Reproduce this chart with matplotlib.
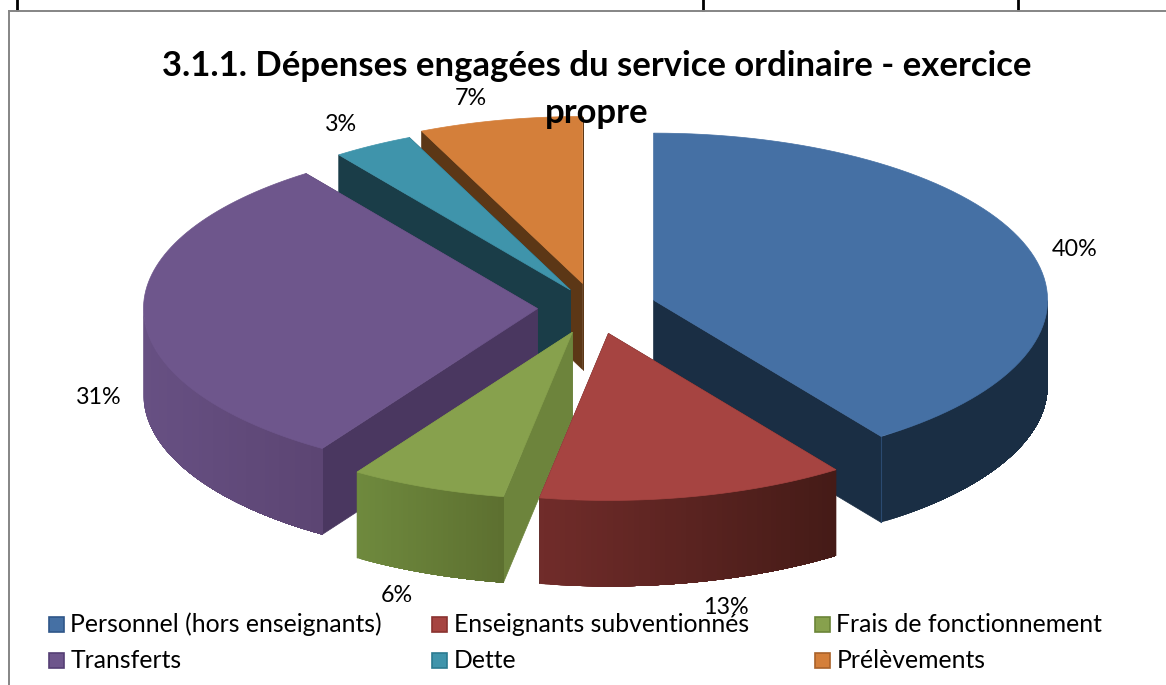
#!/usr/bin/env python3
"""Camembert 3D éclaté : dépenses engagées du service ordinaire."""
import numpy as np
import matplotlib
matplotlib.use("Agg")
import matplotlib.pyplot as plt
from matplotlib.patches import Polygon, Rectangle

plt.rcParams["font.family"] = ["Lato", "DejaVu Sans"]

# ── Données ────────────────────────────────────────────────────────────────────
categories = ["Personnel (hors enseignants)", "Enseignants subventionnés",
              "Frais de fonctionnement", "Transferts", "Dette", "Prélèvements"]
values = [40.2, 12.6, 6.4, 30.8, 3.3, 6.7]
pct_labels = ["40%", "13%", "6%", "31%", "3%", "7%"]

# ── Couleurs ───────────────────────────────────────────────────────────────────
top_colors = ["#4570A4", "#A64441", "#87A14D", "#6E568C", "#3F94AB", "#D47F3A"]
wall_colors = ["#1A2E44", "#451B17", "#6D843C", "#4A3760", "#1A3D48", "#5C3716"]
rim_left = ["#1A2E44", "#712C2A", "#6F8A3E", "#675083", "#1A3D48", "#5C3716"]
rim_right = ["#1A2E44", "#451B17", "#5D7030", "#5C4573", "#1A3D48", "#5C3716"]
legend_edges = ["#2F5689", "#8A3230", "#6B8538", "#553F74", "#2B7A90", "#A9622A"]

# ── Géométrie (pixels de l'image) ──────────────────────────────────────────────
CX, CY = 595, 308
RX, RY = 394, 167
DEPTH = 86
explode = [0.156, 0.156, 0.156, 0.146, 0.125, 0.15]
DRAW_ORDER = [5, 4, 0, 3, 2, 1]   # de l'arrière vers l'avant

label_pos = [(1075, 249), (726, 607), (397, 596), (99, 397), (341, 124), (471, 98)]
legend_x = [49, 432, 815]
legend_y = [624, 660]

fig = plt.figure(figsize=(11.66, 6.85), dpi=100, facecolor="white")
ax = fig.add_axes([0, 0, 1, 1])
ax.set_xlim(0, 1166)
ax.set_ylim(685, 0)
ax.axis("off")

# Cadre du tableau et du graphique
for x in [17, 703, 1018]:
    ax.plot([x, x], [0, 10], color="black", lw=2, zorder=1)
ax.plot([9, 1166], [11, 11], color="#858585", lw=1.4, zorder=1)
ax.plot([9, 9], [11, 685], color="#858585", lw=1.4, zorder=1)


def arc(apex, a0, a1, n=80):
    t = np.radians(np.linspace(a0, a1, n))
    return np.column_stack([apex[0] + RX * np.sin(t), apex[1] - RY * np.cos(t)])


def mix(c0, c1, f):
    return (1 - f) * np.array(matplotlib.colors.to_rgb(c0)) + f * np.array(matplotlib.colors.to_rgb(c1))


edges = np.concatenate([[0], np.cumsum(values)]) / sum(values) * 360

for z, i in enumerate(DRAW_ORDER):
    a0, a1 = edges[i], edges[i + 1]
    mid = np.radians((a0 + a1) / 2)
    apex = (CX + explode[i] * RX * np.sin(mid), CY - explode[i] * RY * np.cos(mid))
    pts = arc(apex, a0, a1)
    base = 10 + z * 5

    # parois radiales
    for edge_pt in (pts[0], pts[-1]):
        wall = [apex, edge_pt, edge_pt + [0, DEPTH], (apex[0], apex[1] + DEPTH)]
        ax.add_patch(Polygon(wall, closed=True, fc=wall_colors[i], ec=wall_colors[i],
                             lw=0.5, zorder=base))

    # bord extérieur, seulement la moitié avant : bandes superposées, sans joints
    r0, r1 = max(a0, 90), min(a1, 270)
    if r1 > r0:
        rim = arc(apex, r0, r1, 60)
        xmin, xmax = rim[:, 0].min(), rim[:, 0].max()
        lower = rim + [0, DEPTH]
        # on peint de gauche à droite, chaque bande couvre tout ce qui reste à droite
        order = range(len(rim) - 1) if rim[0, 0] < rim[-1, 0] else range(len(rim) - 2, -1, -1)
        for j in order:
            if rim[0, 0] < rim[-1, 0]:
                top_part, low_part = rim[j:], lower[j:]
            else:
                top_part, low_part = rim[:j + 2], lower[:j + 2]
            col = mix(rim_left[i], rim_right[i], (rim[j, 0] - xmin) / (xmax - xmin))
            ax.add_patch(Polygon(np.vstack([top_part, low_part[::-1]]), closed=True, fc=col,
                                 ec="none", zorder=base + 1))

    # arête verticale entre paroi et bord du bleu
    if i == 0:
        ax.plot([pts[-1, 0]] * 2, [pts[-1, 1], pts[-1, 1] + DEPTH], color="#2B4A70",
                lw=0.8, zorder=base + 1)

    # face du dessus
    ax.add_patch(Polygon(np.vstack([[apex], pts]), closed=True, fc=top_colors[i],
                         ec=top_colors[i], lw=0.5, zorder=base + 2))

# Titre et étiquettes
ax.text(596.5, 66, "3.1.1. Dépenses engagées du service ordinaire - exercice", ha="center",
        va="center", fontsize=24.9, fontweight="bold", color="black", zorder=60)
ax.text(597, 113, "propre", ha="center", va="center", fontsize=24.9, fontweight="bold",
        color="black", zorder=60)
for lab, (x, y) in zip(pct_labels, label_pos):
    ax.text(x, y, lab, ha="center", va="center", fontsize=16.8, color="black", zorder=60)

# Légende
for k, name in enumerate(categories):
    x = legend_x[k % 3]
    y = legend_y[k // 3]
    ax.add_patch(Rectangle((x, y - 7.5), 15, 15, fc=top_colors[k], ec=legend_edges[k],
                           lw=1.2, zorder=50))
    ax.text(x + 21.5, y, name, ha="left", va="center", fontsize=17.85, color="black", zorder=55)

fig.savefig("out.png", dpi=100)
